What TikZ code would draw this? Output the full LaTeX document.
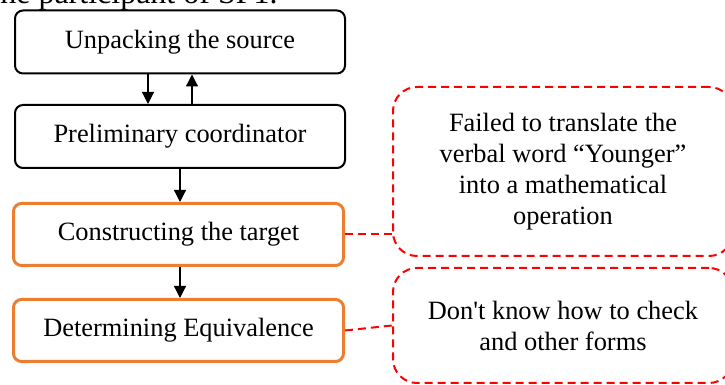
\documentclass[tikz,border=0pt]{standalone}
\usepackage{fontspec}
\setmainfont{Liberation Serif}
\usetikzlibrary{arrows.meta}
\definecolor{boxorange}{HTML}{ED7D31}
\begin{document}
\begin{tikzpicture}[x=0.5pt,y=-0.5pt,
  stage/.style={draw, line width=1pt, rounded corners=4pt, inner sep=0pt,
    minimum width=165pt, minimum height=31.5pt,
    font=\fontsize{13.2}{15.5}\selectfont},
  hard/.style={stage, draw=boxorange, line width=1.5pt, minimum height=31pt},
  note/.style={draw=red, dash pattern=on 4pt off 2.5pt, line width=1pt,
    rounded corners=12pt, inner sep=0pt, minimum width=170pt, align=center,
    font=\fontsize{13.2}{15.5}\selectfont},
  flow/.style={-{Triangle[length=6pt,width=6pt]}, line width=0.6pt},
  link/.style={red, dash pattern=on 4pt off 2.5pt, line width=1pt}]
  \useasboundingbox (0,0) rectangle (725,385);
  \clip (0,0) rectangle (725,385);

  % caption cut at the top
  \node[anchor=base west, inner sep=0pt, font=\fontsize{16}{19}\selectfont]
    (cap) at (-9,4) {the participant of SP1.};

  % stages
  \node[stage] (unpack) at (180,42) {Unpacking the source};
  \node[stage] (prelim) at (180,136.5) {Preliminary coordinator};
  \node[hard] (target) at (178.5,234.5) {Constructing the target};
  \node[hard] (equiv) at (178.5,330.5) {Determining Equivalence};

  \draw[flow] ([xshift=-16pt]unpack.south) -- ([xshift=-16pt]prelim.north);
  \draw[flow] ([xshift=6pt]prelim.north) -- ([xshift=6pt]unpack.south);
  \draw[flow] (prelim.south) -- (prelim.south |- target.north);
  \draw[flow] (target.south -| prelim.south) -- (equiv.north -| prelim.south);

  % difficulties
  \node[note, minimum height=84.5pt] (younger) at (563,171.5)
    {Failed to translate the\\verbal word “Younger”\\into a mathematical\\operation};
  \node[note, minimum height=57.5pt] (check) at (563,325.5)
    {Don\textquotesingle t know how to check\\and other forms};

  \draw[link] (target.east) -- (target.east -| younger.west);
  \draw[link] (equiv.east) -- (check.west);
\end{tikzpicture}
\end{document}
